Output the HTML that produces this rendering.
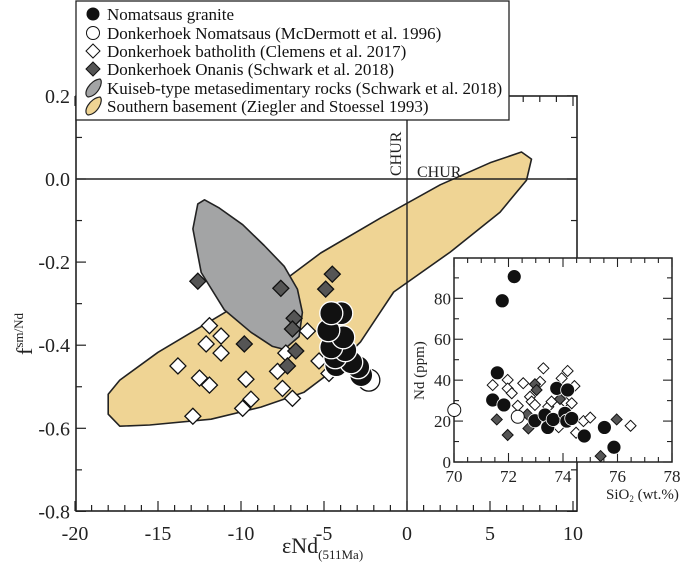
<!DOCTYPE html>
<html><head><meta charset="utf-8"><style>
body{margin:0;background:#fff}
svg{display:block}
svg text{font-family:"Liberation Serif","DejaVu Serif",serif}
</style></head><body>
<svg id="c" width="685" height="579" viewBox="0 0 685 579" xmlns="http://www.w3.org/2000/svg" font-family="Liberation Serif, serif"></svg>
<script>
// ---- main chart data (εNd, f Sm/Nd) ----
const nomE=[-4.56,-3.96,-4.74,-3.84,-4.56,-3.72,-4.32,-3.36,-4.26,-2.94,-2.76];
const nomF=[-0.323,-0.323,-0.364,-0.381,-0.405,-0.412,-0.429,-0.441,-0.448,-0.453,-0.472];
const mcdE=[-2.3];
const mcdF=[-0.484];
const batE=[-11.9,-11.2,-12.1,-11.2,-13.8,-12.5,-11.9,-9.7,-7.8,-7.3,-6.0,-5.3,-7.5,-6.9,-9.4,-9.9,-12.9,-4.7];
const batF=[-0.353,-0.378,-0.397,-0.419,-0.45,-0.479,-0.496,-0.482,-0.463,-0.419,-0.366,-0.438,-0.504,-0.528,-0.53,-0.552,-0.571,-0.468];
const onaE=[-12.6,-7.6,-4.5,-4.9,-6.8,-6.9,-9.8,-6.7,-7.2];
const onaF=[-0.246,-0.263,-0.229,-0.265,-0.335,-0.361,-0.397,-0.414,-0.45];
const kuiE=[-12.6,-12.9,-12.4,-11.0,-9.4,-8.1,-7.4,-6.5,-6.3,-6.6,-7.4,-8.6,-9.9,-11.3,-12.2];
const kuiF=[-0.06,-0.12,-0.225,-0.315,-0.369,-0.403,-0.41,-0.379,-0.321,-0.265,-0.21,-0.16,-0.11,-0.07,-0.05];
const basE=[6.9,7.5,7.2,5.6,2.6,-0.8,-2.8,-4.6,-6.2,-8.8,-11.8,-15.5,-17.3,-18.0,-18.0,-17.3,-15.0,-10.5,-7.6,-5.2,-1.6,2.0,5.0];
const basF=[0.065,0.048,-0.003,-0.08,-0.176,-0.272,-0.392,-0.465,-0.513,-0.549,-0.578,-0.592,-0.595,-0.566,-0.518,-0.484,-0.417,-0.31,-0.25,-0.178,-0.094,-0.014,0.039];
const xTicks=[-20,-15,-10,-5,0,5,10];
const yTicks=[0.2,0.0,-0.2,-0.4,-0.6,-0.8];
const yTickLabels=["0.2","0.0","-0.2","-0.4","-0.6","-0.8"];
// ---- inset data (SiO2, Nd ppm) ----
const iNomX=[72.21,71.77,71.59,71.42,71.83,72.97,73.34,73.44,73.64,73.77,74.17,74.07,74.14,74.78,75.52,75.87,74.32];
const iNomY=[90.6,78.8,43.6,30.3,27.9,20.2,23.0,16.9,20.8,36.0,35.2,23.8,20.0,12.7,16.9,7.2,21.3];
const iMcdX=[70.01,72.34];
const iMcdY=[25.4,22.1];
const iOnaX=[71.57,71.97,72.73,72.69,72.97,73.03,73.89,75.97,75.38];
const iOnaY=[20.8,13.2,16.4,23.3,38.0,35.2,30.8,20.8,2.9];
const iBatX=[71.42,71.97,71.97,72.12,72.34,72.54,72.79,72.85,72.97,73.16,73.28,73.46,73.58,73.95,74.17,74.07,74.32,74.42,74.48,74.75,75.0,76.48,73.84,74.2];
const iBatY=[37.6,40.1,35.9,33.6,27.5,38.5,31.9,29.5,27.9,39.2,45.8,27.0,29.5,40.9,44.5,29.5,28.7,37.1,14.3,20.0,21.7,17.7,17,20];
const ixTicks=[70,72,74,76,78];
const iyTicks=[0,20,40,60,80];

const NS="http://www.w3.org/2000/svg";
const svg=document.getElementById('c');
const FF='Liberation Serif, serif';
function mk(t,a,p){const e=document.createElementNS(NS,t);for(const k in a)e.setAttribute(k,a[k]);if(t==='text')e.setAttribute('font-family',FF);(p||svg).appendChild(e);return e;}
const X=v=>407+v*16.6, Y=v=>179-v*415.5;
const IX=v=>454+(v-70)*27.25, IY=v=>462-v*2.046;

function poly(xs,ys,fx,fy){let d='';for(let i=0;i<xs.length;i++){d+=(i?'L':'M')+fx(xs[i]).toFixed(1)+','+fy(ys[i]).toFixed(1);}return d+'Z';}
const bas=mk('path',{d:poly(basE,basF,X,Y),fill:'#efd494',stroke:'#222','stroke-width':1.6,'stroke-linejoin':'round'});


const kui=mk('path',{d:poly(kuiE,kuiF,X,Y),fill:'#a3a4a5',stroke:'#222','stroke-width':1.6,'stroke-linejoin':'round'});



const fr=mk('rect',{x:76,y:96,width:501,height:415,fill:'none',stroke:'#222','stroke-width':1.6});


mk('line',{x1:X(0),x2:X(0),y1:96,y2:511,stroke:'#222','stroke-width':1.4});
mk('line',{x1:76,x2:577,y1:Y(0),y2:Y(0),stroke:'#222','stroke-width':1.4});
for(let v=-20;v<=10;v++){const L=v%5===0?10:6;
 mk('line',{x1:X(v),x2:X(v),y1:511,y2:511-L,stroke:'#222','stroke-width':1.2});
 mk('line',{x1:X(v),x2:X(v),y1:96,y2:96+L,stroke:'#222','stroke-width':1.2});}
for(let i=0;i<=10;i++){const v=0.2-i*0.1;const L=i%2===0?10:6;
 mk('line',{x1:76,x2:76+L,y1:Y(v),y2:Y(v),stroke:'#222','stroke-width':1.2});
 mk('line',{x1:577,x2:577-L,y1:Y(v),y2:Y(v),stroke:'#222','stroke-width':1.2});}
xTicks.forEach(v=>{const t=mk('text',{x:X(v),y:540,'font-size':20,'text-anchor':'middle',fill:'#222'});t.textContent=v;
 
 });
yTicks.forEach((v,i)=>{const t=mk('text',{x:70,y:Y(v)+7,'font-size':20,'text-anchor':'end',fill:'#222'});t.textContent=yTickLabels[i];
 
 });
let t=mk('text',{x:0,y:0,'font-size':16,fill:'#222',transform:'translate(401 176) rotate(-90)'});t.textContent='CHUR';


t=mk('text',{x:417,y:177,'font-size':16,fill:'#222'});t.textContent='CHUR';


t=mk('text',{x:282,y:553,'font-size':22,fill:'#222'});t.innerHTML='εNd<tspan font-size="13" dy="6">(511Ma)</tspan>';


t=mk('text',{x:0,y:0,'font-size':22,fill:'#222',transform:'translate(32 355) rotate(-90)'});t.innerHTML='f<tspan font-size="13" dy="-9">sm/Nd</tspan>';



function diamond(cx,cy,h,fill,sw){return mk('path',{d:`M${cx},${cy-h}L${cx+h},${cy}L${cx},${cy+h}L${cx-h},${cy}Z`,fill:fill,stroke:'#111','stroke-width':sw});}
batE.forEach((e,i)=>{const d=diamond(X(e),Y(batF[i]),8,'#fff',1.3);
 
 });
onaE.forEach((e,i)=>{const d=diamond(X(e),Y(onaF[i]),8,'#555',1.3);
 
 });
mcdE.forEach((e,i)=>{const c=mk('circle',{cx:X(e),cy:Y(mcdF[i]),r:11,fill:'#fff',stroke:'#111','stroke-width':1.3});
 
 });
for(let i=nomE.length-1;i>=0;i--){const c=mk('circle',{cx:X(nomE[i]),cy:Y(nomF[i]),r:11.5,fill:'#111',stroke:'#fff','stroke-width':1.3});
 
 }

const ib=mk('rect',{x:454,y:258,width:218,height:204,fill:'#fff',stroke:'#222','stroke-width':1.5});


for(let v=70;v<=78.01;v+=0.5){const L=Math.abs(v-Math.round(v/2)*2)<0.01?9:5;
 mk('line',{x1:IX(v),x2:IX(v),y1:462,y2:462-L,stroke:'#222','stroke-width':1.1});
 mk('line',{x1:IX(v),x2:IX(v),y1:258,y2:258+L,stroke:'#222','stroke-width':1.1});}
for(let v=0;v<=90;v+=10){const L=v%20===0?9:5;
 mk('line',{x1:454,x2:454+L,y1:IY(v),y2:IY(v),stroke:'#222','stroke-width':1.1});
 mk('line',{x1:672,x2:672-L,y1:IY(v),y2:IY(v),stroke:'#222','stroke-width':1.1});}
ixTicks.forEach(v=>{const t=mk('text',{x:IX(v),y:482,'font-size':17,'text-anchor':'middle',fill:'#222'});t.textContent=v;
 
 });
iyTicks.forEach(v=>{const t=mk('text',{x:451,y:IY(v)+6,'font-size':17,'text-anchor':'end',fill:'#222'});t.textContent=v;
 
 });
t=mk('text',{x:0,y:0,'font-size':15,fill:'#222',transform:'translate(424 400) rotate(-90)'});t.textContent='Nd (ppm)';


t=mk('text',{x:606,y:499,'font-size':15,fill:'#222'});t.innerHTML='SiO<tspan font-size="9" dy="3">2</tspan><tspan dy="-3"> (wt.%)</tspan>';


iBatX.forEach((x,i)=>{const d=diamond(IX(x),IY(iBatY[i]),5.5,'#fff',1);
 
 });
iOnaX.forEach((x,i)=>{const d=diamond(IX(x),IY(iOnaY[i]),5.5,'#555',1);
 
 });
iMcdX.forEach((x,i)=>{const c=mk('circle',{cx:IX(x),cy:IY(iMcdY[i]),r:6.5,fill:'#fff',stroke:'#111','stroke-width':1});
 
 });
iNomX.forEach((x,i)=>{const c=mk('circle',{cx:IX(x),cy:IY(iNomY[i]),r:7,fill:'#111',stroke:'#fff','stroke-width':0.8});
 
 });

const lg=mk('g',{});


mk('rect',{x:76,y:1,width:433,height:119,fill:'#fff',stroke:'#222','stroke-width':1.3},lg);
const labels=['Nomatsaus granite','Donkerhoek Nomatsaus (McDermott et al. 1996)','Donkerhoek batholith (Clemens et al. 2017)','Donkerhoek Onanis (Schwark et al. 2018)','Kuiseb-type metasedimentary rocks (Schwark et al. 2018)','Southern basement (Ziegler and Stoessel 1993)'];
const rows=[14,33,51,69,88,106];
mk('circle',{cx:93,cy:rows[0],r:6.5,fill:'#111'},lg);
mk('circle',{cx:93,cy:rows[1],r:6.5,fill:'#fff',stroke:'#111','stroke-width':1},lg);
mk('path',{d:`M93,${rows[2]-7}L100,${rows[2]}L93,${rows[2]+7}L86,${rows[2]}Z`,fill:'#fff',stroke:'#111','stroke-width':1},lg);
mk('path',{d:`M93,${rows[3]-7}L100,${rows[3]}L93,${rows[3]+7}L86,${rows[3]}Z`,fill:'#555',stroke:'#111','stroke-width':1},lg);
mk('path',{d:`M100,${rows[4]-9}C104,${rows[4]-6} 98,${rows[4]+8} 88,${rows[4]+9}C82,${rows[4]+6} 90,${rows[4]-8} 100,${rows[4]-9}Z`,fill:'#a3a4a5',stroke:'#222','stroke-width':1.2},lg);
mk('path',{d:`M100,${rows[5]-9}C104,${rows[5]-6} 98,${rows[5]+8} 88,${rows[5]+9}C82,${rows[5]+6} 90,${rows[5]-8} 100,${rows[5]-9}Z`,fill:'#efd494',stroke:'#222','stroke-width':1.2},lg);
labels.forEach((s,i)=>{const t=mk('text',{x:107,y:rows[i]+6,'font-size':17,fill:'#111'},lg);t.textContent=s;
 
 });
</script>
</body></html>
